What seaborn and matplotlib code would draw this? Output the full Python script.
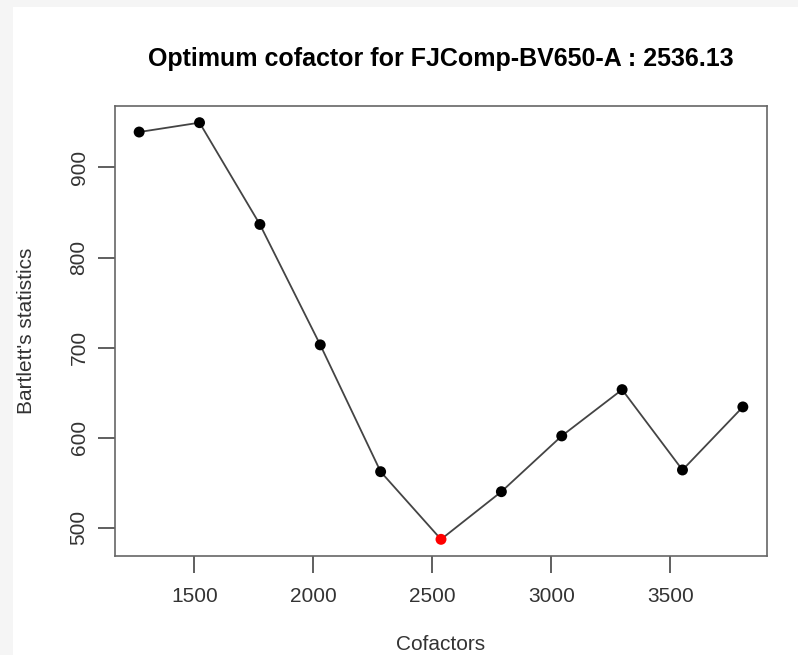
import numpy as np
import pandas as pd
import matplotlib
matplotlib.use("Agg")
import matplotlib.pyplot as plt
from matplotlib.patches import Rectangle
import seaborn as sns

# ---- data ----
cofactors = [1268.07, 1521.68, 1775.29, 2028.90, 2282.52, 2536.13,
             2789.74, 3043.36, 3296.97, 3550.58, 3804.20]
bartlett = [939.3, 949.7, 836.7, 703.0, 562.2, 487.1,
            540.0, 601.9, 653.3, 564.1, 634.1]
optimum = 2536.13
channel = "FJComp-BV650-A"
x_ticks = [1500, 2000, 2500, 3000, 3500]
y_ticks = [500, 600, 700, 800, 900]

df = pd.DataFrame({"cofactor": cofactors, "stat": bartlett})
df["is_opt"] = np.isclose(df["cofactor"], optimum)

sns.set_style("white")
plt.rcParams["font.family"] = ["Liberation Sans", "DejaVu Sans"]

fig = plt.figure(figsize=(7.98, 6.55), dpi=100)
fig.patch.set_facecolor("white")
# light grey screenshot margins
fig.add_artist(Rectangle((0, 1 - 7 / 655), 1, 7 / 655, transform=fig.transFigure,
                         color="#f5f5f5", zorder=-10, lw=0))
fig.add_artist(Rectangle((0, 0), 13 / 798, 1, transform=fig.transFigure,
                         color="#f5f5f5", zorder=-10, lw=0))

ax = fig.add_axes([115 / 798, 1 - 556 / 655, 652 / 798, 450 / 655])

sns.lineplot(data=df, x="cofactor", y="stat", ax=ax, color="#444444",
             lw=1.3, zorder=2, sort=False)
sns.scatterplot(data=df[~df["is_opt"]], x="cofactor", y="stat", ax=ax,
                color="black", s=62, edgecolor="none", zorder=3)
sns.scatterplot(data=df[df["is_opt"]], x="cofactor", y="stat", ax=ax,
                color="#ff0000", s=62, edgecolor="none", zorder=4)

# R-like 4% padding
xr = max(cofactors) - min(cofactors)
yr = max(bartlett) - min(bartlett)
ax.set_xlim(min(cofactors) - 0.04 * xr, max(cofactors) + 0.04 * xr)
ax.set_ylim(min(bartlett) - 0.04 * yr, max(bartlett) + 0.04 * yr)

ax.set_xticks(x_ticks)
ax.set_yticks(y_ticks)
ax.set_xticklabels([str(t) for t in x_ticks])
ax.set_yticklabels([str(t) for t in y_ticks], rotation=90, va="center")
ax.tick_params(axis="both", direction="out", length=12, width=1.2,
               color="#444444", labelsize=15, labelcolor="#333333",
               bottom=True, left=True)
ax.tick_params(axis="x", pad=10)
ax.tick_params(axis="y", pad=7)
for s in ax.spines.values():
    s.set_color("#666666")
    s.set_linewidth(1.2)
    s.set_visible(True)

ax.set_xlabel("Cofactors", fontsize=15, color="#333333", va="center")
ax.xaxis.set_label_coords(0.5, (556 - 645) / 450)
ax.set_ylabel("Bartlett's statistics", fontsize=15, color="#333333", va="center")
ax.yaxis.set_label_coords((26.7 - 115) / 652, 0.5)

ax.set_title(f"Optimum cofactor for {channel} : {optimum}", fontsize=18,
             fontweight="bold", color="black", y=(556 - 59) / 450,
             va="center", pad=0)

fig.savefig("out.png", dpi=100, facecolor="white")
